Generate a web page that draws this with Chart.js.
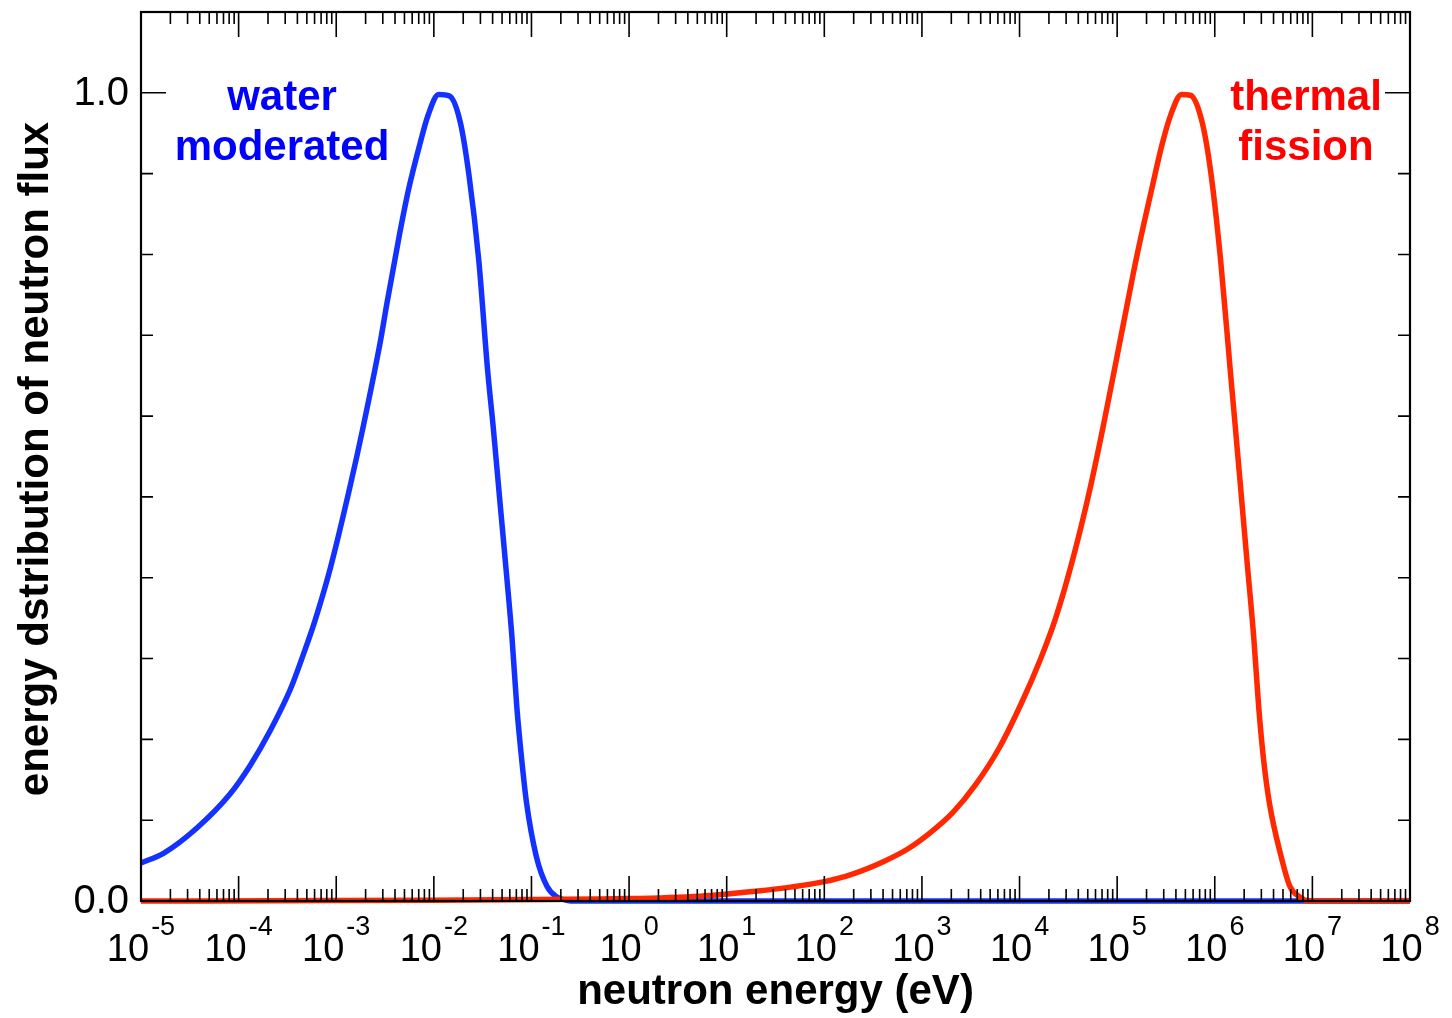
<!DOCTYPE html>
<html>
<head>
<meta charset="utf-8">
<title>neutron flux spectra</title>
<script src="https://cdn.jsdelivr.net/npm/chart.js@4.4.0/dist/chart.umd.min.js"></script>
<style>
  html, body { margin: 0; padding: 0; background: #fff; }
  #wrap { width: 1452px; height: 1018px; }
</style>
</head>
<body>
<div id="wrap"><canvas id="fluxChart" width="1452" height="1018"></canvas></div>
<script>
// values: log10(E / eV) and normalised flux
const waterLogE = [-5.0, -4.77, -4.43, -4.09, -3.88, -3.68, -3.47, -3.34, -3.22, -3.06, -2.86, -2.72,
  -2.55, -2.48, -2.35, -2.26, -2.14, -2.06, -1.95, -1.84, -1.73, -1.64, -1.54, -1.45, -1.39, -1.32,
  -1.25, -1.20, -1.15, -1.10, -1.05, -0.95, -0.84, -0.74, -0.64, -0.55, 8.0];
const waterFlux = [0.047, 0.059, 0.090, 0.132, 0.168, 0.210, 0.262, 0.304, 0.346, 0.412, 0.512, 0.589,
  0.691, 0.740, 0.826, 0.880, 0.938, 0.972, 0.998, 0.996, 0.964, 0.898, 0.793, 0.658, 0.584, 0.490,
  0.397, 0.327, 0.240, 0.175, 0.121, 0.055, 0.018, 0.005, 0.001, 0.0, 0.0];

const fissionLogE = [-5.0, -3.0, -2.0, -1.0, 0.0, 0.73, 1.01, 1.29, 1.67, 2.00, 2.28, 2.61, 2.85, 3.08,
  3.32, 3.55, 3.79, 4.02, 4.21, 4.37, 4.55, 4.72, 4.86, 4.96, 5.08, 5.20, 5.36, 5.46, 5.55, 5.66, 5.75,
  5.87, 5.96, 6.06, 6.16, 6.21, 6.26, 6.33, 6.40, 6.45, 6.50, 6.56, 6.68, 6.77, 6.87, 6.96, 8.0];
const fissionFlux = [0.0, 0.0005, 0.001, 0.002, 0.003, 0.006, 0.0087, 0.0120, 0.0175, 0.024, 0.033,
  0.049, 0.064, 0.084, 0.110, 0.144, 0.189, 0.245, 0.298, 0.350, 0.425, 0.509, 0.589, 0.650, 0.724,
  0.797, 0.884, 0.936, 0.973, 0.998, 0.997, 0.964, 0.901, 0.793, 0.655, 0.587, 0.518, 0.421, 0.325,
  0.240, 0.175, 0.121, 0.055, 0.018, 0.005, 0.0, 0.0];

const xTickExponents = [-5, -4, -3, -2, -1, 0, 1, 2, 3, 4, 5, 6, 7, 8];
const yMinorTicks = [0.1, 0.2, 0.3, 0.4, 0.5, 0.6, 0.7, 0.8, 0.9];
const yTickLabels = ['0.0', '1.0'];

const FONT = '"Liberation Sans", Arial, Helvetica, sans-serif';

function toPoints(logE, flux) {
  return logE.map((e, i) => ({ x: Math.pow(10, e), y: flux[i] }));
}

const frameAndText = {
  id: 'frameAndText',
  afterDraw(chart) {
    const ctx = chart.ctx;
    const xs = chart.scales.x;
    const ys = chart.scales.y;
    const { left, right, top, bottom } = chart.chartArea;

    ctx.save();
    ctx.strokeStyle = '#000';

    // inward ticks on all four sides
    ctx.lineWidth = 1.6;
    ctx.beginPath();
    xTickExponents.forEach((p, idx) => {
      const px = xs.getPixelForValue(Math.pow(10, p));
      ctx.moveTo(px, bottom); ctx.lineTo(px, bottom - 25);
      ctx.moveTo(px, top); ctx.lineTo(px, top + 25);
      if (idx < xTickExponents.length - 1) {
        for (let m = 2; m <= 9; m++) {
          const mx = xs.getPixelForValue(m * Math.pow(10, p));
          ctx.moveTo(mx, bottom); ctx.lineTo(mx, bottom - 12);
          ctx.moveTo(mx, top); ctx.lineTo(mx, top + 12);
        }
      }
    });
    [0, 1].forEach(v => {
      const py = ys.getPixelForValue(v);
      ctx.moveTo(left, py); ctx.lineTo(left + 25, py);
      ctx.moveTo(right, py); ctx.lineTo(right - 25, py);
    });
    yMinorTicks.forEach(v => {
      const py = ys.getPixelForValue(v);
      ctx.moveTo(left, py); ctx.lineTo(left + 12, py);
      ctx.moveTo(right, py); ctx.lineTo(right - 12, py);
    });
    ctx.stroke();

    // frame
    ctx.lineWidth = 2.2;
    ctx.strokeRect(left, top, right - left, bottom - top);

    ctx.fillStyle = '#000';

    // y tick labels
    ctx.font = '40px ' + FONT;
    ctx.textAlign = 'right';
    ctx.textBaseline = 'middle';
    yTickLabels.forEach(lbl => {
      ctx.fillText(lbl, left - 12, ys.getPixelForValue(parseFloat(lbl)) + 1);
    });

    // x tick labels: 10 with superscript exponent
    ctx.textAlign = 'left';
    ctx.textBaseline = 'alphabetic';
    xTickExponents.forEach(p => {
      const px = xs.getPixelForValue(Math.pow(10, p));
      const expTxt = String(p);
      ctx.font = '38px ' + FONT;
      const wBase = ctx.measureText('10').width;
      ctx.font = '27px ' + FONT;
      const wExp = ctx.measureText(expTxt).width;
      const x0 = px - (wBase + 2 + wExp) / 2;
      ctx.font = '38px ' + FONT;
      ctx.fillText('10', x0, bottom + 60);
      ctx.font = '27px ' + FONT;
      ctx.fillText(expTxt, x0 + wBase + 2, bottom + 34);
    });

    // axis titles
    ctx.font = 'bold 42px ' + FONT;
    ctx.textAlign = 'center';
    ctx.fillText('neutron energy (eV)', (left + right) / 2, 1004);
    ctx.save();
    ctx.translate(48, 459);
    ctx.rotate(-Math.PI / 2);
    ctx.fillText('energy dstribution of neutron flux', 0, 0);
    ctx.restore();

    // curve labels
    ctx.fillStyle = '#0000ff';
    ctx.fillText('water', 282, 110);
    ctx.fillText('moderated', 282, 160);
    ctx.fillStyle = '#ff0000';
    ctx.fillText('thermal', 1306, 110);
    ctx.fillText('fission', 1306, 160);

    ctx.restore();
  }
};

new Chart(document.getElementById('fluxChart'), {
  type: 'scatter',
  data: {
    datasets: [
      {
        label: 'water moderated',
        data: toPoints(waterLogE, waterFlux),
        showLine: true,
        borderColor: 'rgb(20, 50, 255)',
        borderWidth: 5.5,
        pointRadius: 0,
        cubicInterpolationMode: 'monotone',
        clip: false,
        order: 2
      },
      {
        label: 'thermal fission',
        data: toPoints(fissionLogE, fissionFlux),
        showLine: true,
        borderColor: 'rgb(255, 40, 0)',
        borderWidth: 5.5,
        pointRadius: 0,
        cubicInterpolationMode: 'monotone',
        clip: false,
        order: 1
      }
    ]
  },
  options: {
    responsive: false,
    animation: false,
    layout: { padding: { left: 141, right: 42, top: 12, bottom: 117 } },
    plugins: { legend: { display: false }, tooltip: { enabled: false } },
    scales: {
      x: { type: 'logarithmic', min: 1e-5, max: 1e8, display: false },
      y: { type: 'linear', min: 0, max: 1.1, display: false }
    }
  },
  plugins: [frameAndText]
});
</script>
</body>
</html>
